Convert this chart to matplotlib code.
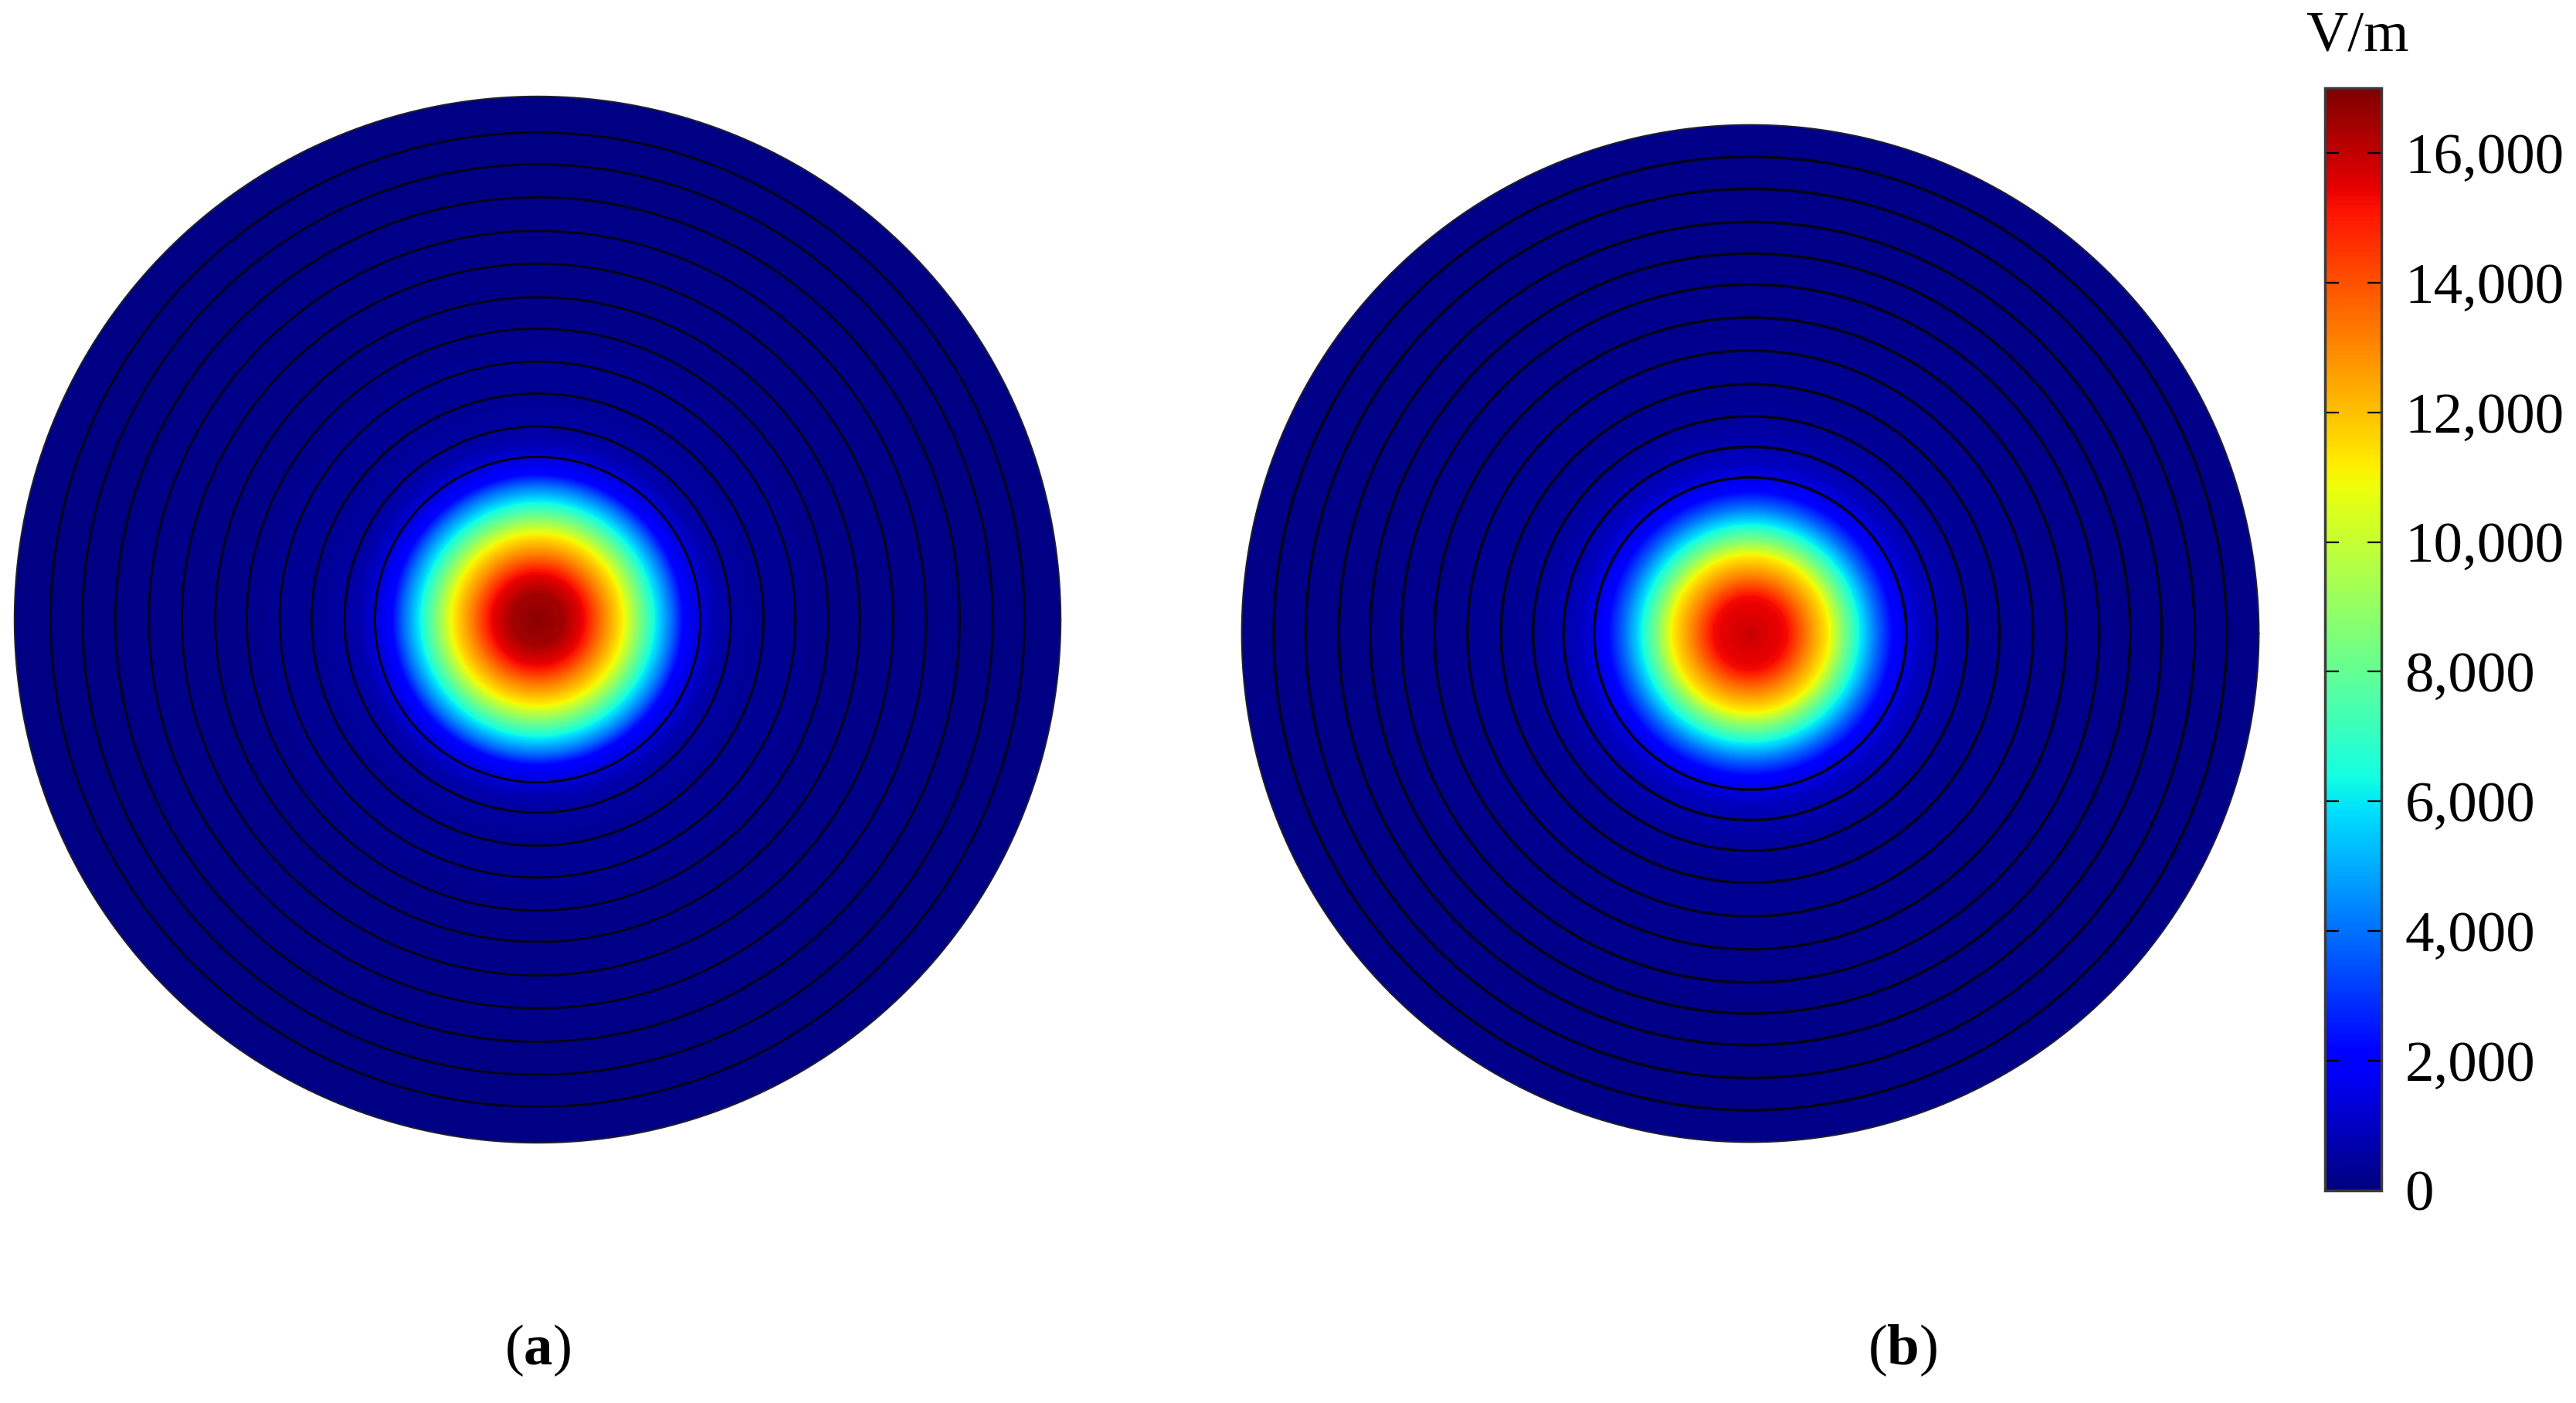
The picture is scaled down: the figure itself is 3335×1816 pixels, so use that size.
import numpy as np
import matplotlib
matplotlib.use("Agg")
import matplotlib.pyplot as plt
import matplotlib.tri as mtri
from matplotlib.colors import Normalize
from matplotlib.cm import ScalarMappable
from matplotlib.ticker import FuncFormatter

plt.rcParams['font.family'] = ['Liberation Serif', 'DejaVu Serif']
plt.rcParams['mathtext.fontset'] = 'custom'
plt.rcParams['mathtext.rm'] = 'Liberation Serif'
plt.rcParams['mathtext.bf'] = 'Liberation Serif:bold'

# radial field profiles (r as fraction of disk radius, E in V/m)
left_r = [0, 0.048, 0.089, 0.124, 0.161, 0.194, 0.228, 0.256, 0.279, 0.311, 0.34, 0.37, 0.433, 0.585, 1.0]
left_e = [16800, 16450, 15300, 13200, 11200, 8500, 5900, 3900, 2000, 1300, 700, 500, 330, 180, 120]

right_r = [0, 0.071, 0.111, 0.152, 0.183, 0.218, 0.248, 0.281, 0.307, 0.338, 0.371, 0.406, 0.451, 0.602, 1.0]
right_e = [15900, 15300, 13200, 11200, 8500, 5900, 3900, 2000, 1500, 900, 700, 500, 350, 220, 150]

# layer boundaries (fraction of disk radius)
left_rings = [0.311, 0.369, 0.432, 0.493, 0.556, 0.616, 0.680, 0.743, 0.807, 0.870, 0.931]
right_rings = [0.307, 0.367, 0.427, 0.490, 0.556, 0.621, 0.686, 0.747, 0.809, 0.874, 0.937]

cbar_ticks = [0, 2000, 4000, 6000, 8000, 10000, 12000, 14000, 16000]
vmax = 17000
panel_labels = ['a', 'b']

W, H = 3335, 1816
fig = plt.figure(figsize=(W / 100, H / 100), dpi=100)
norm = Normalize(vmin=0, vmax=vmax)


def draw_disk(ax, r_prof, e_prof, rings, ring_lw):
    theta = np.linspace(0, 2 * np.pi, 240, endpoint=False)
    xs, ys, cs = [0.0], [0.0], [e_prof[0]]
    for rk, ek in zip(r_prof[1:], e_prof[1:]):
        xs.extend(rk * np.cos(theta))
        ys.extend(rk * np.sin(theta))
        cs.extend([ek] * len(theta))
    tri = mtri.Triangulation(xs, ys)
    ax.tricontourf(tri, cs, levels=np.linspace(0, vmax, 341), cmap='jet', norm=norm)
    t = np.linspace(0, 2 * np.pi, 721)
    for rk in rings:
        ax.plot(rk * np.cos(t), rk * np.sin(t), color='#05051a', lw=ring_lw)
    ax.plot(np.cos(t), np.sin(t), color='#202030', lw=1.4)
    ax.set_xlim(-1.01, 1.01)
    ax.set_ylim(-1.01, 1.01)
    ax.set_aspect('equal')
    ax.axis('off')


# left disk: centre (696, 802), radius 684 px
axL = fig.add_axes([(696 - 684) / W, (H - 802 - 684) / H, 1368 / W, 1368 / H])
draw_disk(axL, left_r, left_e, left_rings, 2.2)

# right disk: centre (2266, 820), radius 665 px
axR = fig.add_axes([(2266 - 665) / W, (H - 820 - 665) / H, 1330 / W, 1330 / H])
draw_disk(axR, right_r, right_e, right_rings, 2.6)

# colour bar
cax = fig.add_axes([3010 / W, (H - 1541) / H, 73 / W, 1427 / H])
sm = ScalarMappable(norm=norm, cmap='jet')
cb = fig.colorbar(sm, cax=cax, ticks=cbar_ticks)
cb.outline.set_linewidth(2.5)
cb.outline.set_edgecolor('#3a3a3a')
cax.yaxis.set_major_formatter(FuncFormatter(lambda v, p: f"{int(v):,}"))
cax.tick_params(axis='y', which='both', direction='in', length=13, width=1.6,
                left=True, right=True, labelsize=54, pad=22, colors='black')
cax.minorticks_off()
fig.text(3052 / W, 1 - 48 / H, 'V/m', ha='center', va='center', fontsize=54)

# panel labels
fig.text(696 / W, 1 - 1748 / H, r'($\mathbf{' + panel_labels[0] + '}$)',
         ha='center', va='center', fontsize=54)
fig.text(2463 / W, 1 - 1748 / H, r'($\mathbf{' + panel_labels[1] + '}$)',
         ha='center', va='center', fontsize=54)

fig.savefig('out.png', dpi=100)
